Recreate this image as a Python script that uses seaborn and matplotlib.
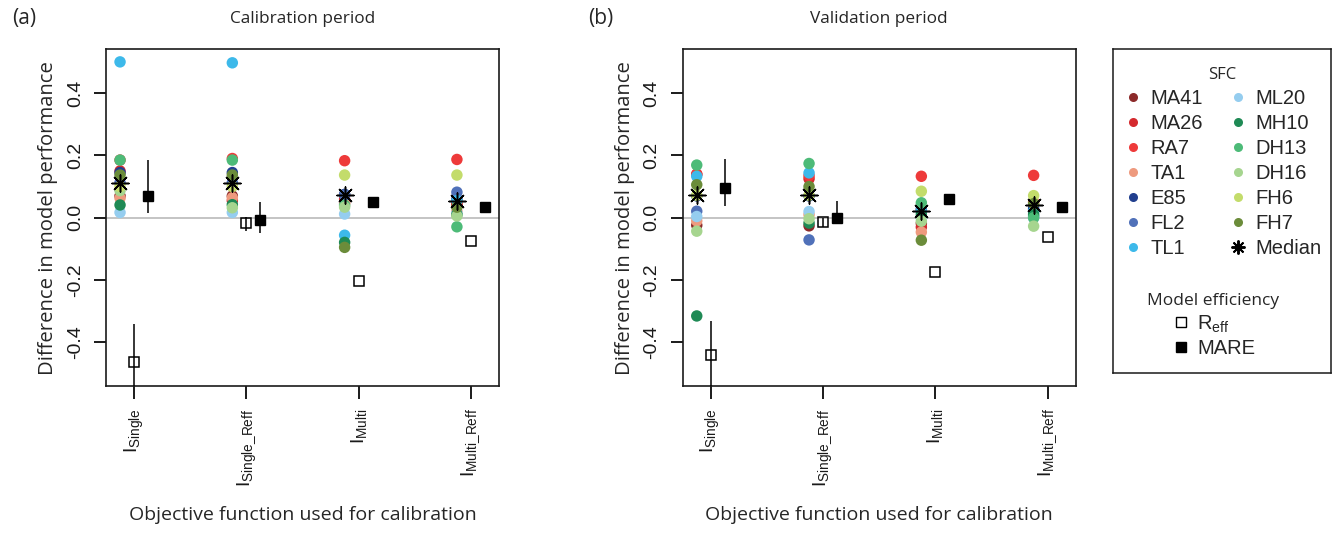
import matplotlib

matplotlib.use("Agg")
import matplotlib.pyplot as plt
from matplotlib.lines import Line2D
import numpy as np
import pandas as pd
import seaborn as sns

# --- datos ------------------------------------------------------------------
OBJETIVOS = ["I_Single", "I_Single_Reff", "I_Multi", "I_Multi_Reff"]
ETIQUETAS_X = [r"$\mathregular{I_{Single}}$", r"$\mathregular{I_{Single\_Reff}}$",
               r"$\mathregular{I_{Multi}}$", r"$\mathregular{I_{Multi\_Reff}}$"]

SFC = ["MA41", "MA26", "RA7", "TA1", "E85", "FL2", "TL1",
       "ML20", "MH10", "DH13", "DH16", "FH6", "FH7"]
COLORES = ["#8C2A2A", "#D42A2E", "#EE3A3A", "#EE9A7E", "#213F8E", "#5071B9", "#3DB9EA",
           "#95CDEF", "#1F8A55", "#4DBB78", "#A6D58F", "#C3DC6B", "#6B8C3A"]

# diferencias por SFC (orden de SFC) — periodo de calibración
CAL_I_SINGLE = [0.070, 0.150, 0.185, 0.063, 0.145, 0.113, 0.500, 0.017, 0.041, 0.185, 0.087, 0.100, 0.137]
CAL_I_SINGLE_REFF = [0.070, 0.055, 0.190, 0.064, 0.145, 0.113, 0.497, 0.017, 0.042, 0.185, 0.032, 0.100, 0.137]
CAL_I_MULTI = [0.050, 0.060, 0.183, 0.045, 0.075, 0.073, -0.056, 0.012, -0.079, 0.040, 0.034, 0.137, -0.095]
CAL_I_MULTI_REFF = [0.040, 0.045, 0.187, 0.020, 0.060, 0.082, 0.055, 0.015, 0.010, -0.029, 0.006, 0.137, 0.034]

# periodo de validación
VAL_I_SINGLE = [-0.024, 0.140, 0.139, -0.010, 0.070, 0.021, 0.133, 0.004, -0.315, 0.169, -0.043, 0.072, 0.106]
VAL_I_SINGLE_REFF = [-0.026, 0.125, 0.135, 0.010, 0.070, -0.071, 0.144, 0.020, -0.017, 0.174, -0.003, 0.072, 0.100]
VAL_I_MULTI = [-0.018, -0.030, 0.133, -0.046, 0.025, 0.030, 0.020, 0.000, 0.010, 0.048, -0.011, 0.085, -0.072]
VAL_I_MULTI_REFF = [0.025, 0.050, 0.136, 0.020, 0.030, 0.005, 0.020, 0.000, 0.011, 0.000, -0.027, 0.071, 0.045]

CAL_MEDIANA = [0.113, 0.113, 0.073, 0.053]
VAL_MEDIANA = [0.072, 0.072, 0.021, 0.040]

CAL_REFF = [-0.463, -0.017, -0.204, -0.075]
CAL_REFF_LO = [-0.600, -0.044, -0.204, -0.075]
CAL_REFF_HI = [-0.341, 0.001, -0.204, -0.075]
CAL_MARE = [0.070, -0.007, 0.052, 0.033]
CAL_MARE_LO = [0.014, -0.050, 0.052, 0.033]
CAL_MARE_HI = [0.185, 0.052, 0.052, 0.033]

VAL_REFF = [-0.440, -0.013, -0.173, -0.061]
VAL_REFF_LO = [-0.600, -0.030, -0.173, -0.061]
VAL_REFF_HI = [-0.332, -0.002, -0.173, -0.061]
VAL_MARE = [0.096, 0.000, 0.061, 0.035]
VAL_MARE_LO = [0.039, -0.016, 0.061, 0.035]
VAL_MARE_HI = [0.187, 0.053, 0.061, 0.035]

TICKS_Y = [-0.4, -0.2, 0.0, 0.2, 0.4]

FUENTE = "Liberation Sans"
FUENTE_TIT = "Open Sans"
TINTA = "#1A1A1A"

sns.set_theme(style="ticks", rc={"xtick.major.size": 9, "ytick.major.size": 9,
                                 "xtick.major.width": 1.4, "ytick.major.width": 1.4,
                                 "xtick.color": TINTA, "ytick.color": TINTA,
                                 "xtick.bottom": True, "ytick.left": True})
plt.rcParams.update({"font.family": [FUENTE, "DejaVu Sans"], "axes.edgecolor": TINTA,
                     "axes.linewidth": 1.2})


def _tabla(columnas):
    filas = []
    for k, nombre in enumerate(SFC):
        for j, obj in enumerate(OBJETIVOS):
            filas.append({"sfc": nombre, "pos": j + 1, "valor": columnas[j][k]})
    return pd.DataFrame(filas)


def panel(ax, columnas, mediana, reff, reff_lo, reff_hi, mare, mare_lo, mare_hi, titulo, letra):
    df = _tabla(columnas)
    df["x"] = df["pos"] - 0.125
    pos = np.arange(1, len(OBJETIVOS) + 1)
    ax.axhline(0, color="#C4C4C4", lw=1.4, zorder=0)
    sns.scatterplot(data=df, x="x", y="valor", hue="sfc", hue_order=SFC, palette=COLORES,
                    s=68, edgecolor="none", legend=False, ax=ax, zorder=2)
    ax.scatter(pos - 0.125, mediana, marker=(8, 2, 0), s=150, c="black", linewidths=1.1, zorder=3)
    reff = np.array(reff)
    mare = np.array(mare)
    ax.errorbar(pos, reff, yerr=[reff - np.array(reff_lo), np.array(reff_hi) - reff], fmt="s",
                mfc="none", mec="black", mew=1.1, ms=7, ecolor="black", elinewidth=1.1, zorder=3)
    ax.errorbar(pos + 0.125, mare, yerr=[mare - np.array(mare_lo), np.array(mare_hi) - mare], fmt="s",
                mfc="black", mec="black", ms=7, ecolor="black", elinewidth=1.1, zorder=3)
    ax.set_xlim(0.75, 4.25)
    ax.set_ylim(-0.54, 0.54)
    ax.set_xticks(pos)
    ax.set_xticklabels(ETIQUETAS_X, rotation=90, fontsize=14)
    ax.set_yticks(TICKS_Y)
    ax.set_yticklabels([f"{v:.1f}" for v in TICKS_Y], rotation=90, va="center", fontsize=14)
    ax.tick_params(axis="both", which="major", direction="out", length=9, width=1.4, color=TINTA,
                   pad=7, bottom=True, left=True, top=False, right=False)
    ax.set_xlabel("Objective function used for calibration", family=FUENTE_TIT, fontsize=14, labelpad=14)
    ax.set_ylabel("Difference in model performance", family=FUENTE_TIT, fontsize=14.6, labelpad=6)
    ax.set_title(titulo, family=FUENTE_TIT, fontsize=12.4, pad=19)
    ax.text(-0.24, 1.092, letra, transform=ax.transAxes, family=FUENTE_TIT, fontsize=15, va="center")


fig = plt.figure(figsize=(13.35, 5.4), dpi=100)
ax1 = fig.add_axes([0.0794, 0.285, 0.2944, 0.6235])
ax2 = fig.add_axes([0.5114, 0.285, 0.2944, 0.6235])

panel(ax1, [CAL_I_SINGLE, CAL_I_SINGLE_REFF, CAL_I_MULTI, CAL_I_MULTI_REFF], CAL_MEDIANA,
      CAL_REFF, CAL_REFF_LO, CAL_REFF_HI, CAL_MARE, CAL_MARE_LO, CAL_MARE_HI, "Calibration period", "(a)")
panel(ax2, [VAL_I_SINGLE, VAL_I_SINGLE_REFF, VAL_I_MULTI, VAL_I_MULTI_REFF], VAL_MEDIANA,
      VAL_REFF, VAL_REFF_LO, VAL_REFF_HI, VAL_MARE, VAL_MARE_LO, VAL_MARE_HI, "Validation period", "(b)")

# --- leyenda -----------------------------------------------------------------
axl = fig.add_axes([0.8337, 0.3098, 0.1633, 0.599])
axl.tick_params(left=False, bottom=False, labelleft=False, labelbottom=False)
for s in axl.spines.values():
    s.set_linewidth(1.1)

manejadores = [Line2D([], [], ls="none", marker="o", ms=6.5, mec="none", mfc=c) for c in COLORES]
manejadores.append(Line2D([], [], ls="none", marker=(8, 2, 0), ms=10, color="black", mew=1.4))
leg1 = axl.legend(manejadores, SFC + ["Median"], ncol=2, loc="upper center", bbox_to_anchor=(0.5, 0.99),
                  frameon=False, fontsize=14.5, title="SFC", handlelength=1.0, handletextpad=0.35,
                  columnspacing=1.25, labelspacing=0.3, borderaxespad=0.3)
leg1.get_title().set_family(FUENTE_TIT)
leg1.get_title().set_fontsize(12)
axl.add_artist(leg1)

manejadores2 = [Line2D([], [], ls="none", marker="s", ms=6.5, mfc="white", mec="black", mew=1.0),
                Line2D([], [], ls="none", marker="s", ms=6.5, mfc="black", mec="black")]
leg2 = axl.legend(manejadores2, [r"$\mathregular{R_{eff}}$", "MARE"], loc="lower center",
                  bbox_to_anchor=(0.46, -0.01), frameon=False, fontsize=14.5, title="Model efficiency",
                  handlelength=1.0, handletextpad=0.3, labelspacing=0.2)
leg2.get_title().set_family(FUENTE_TIT)
leg2.get_title().set_fontsize(12.5)

fig.savefig("out.png", dpi=100)
